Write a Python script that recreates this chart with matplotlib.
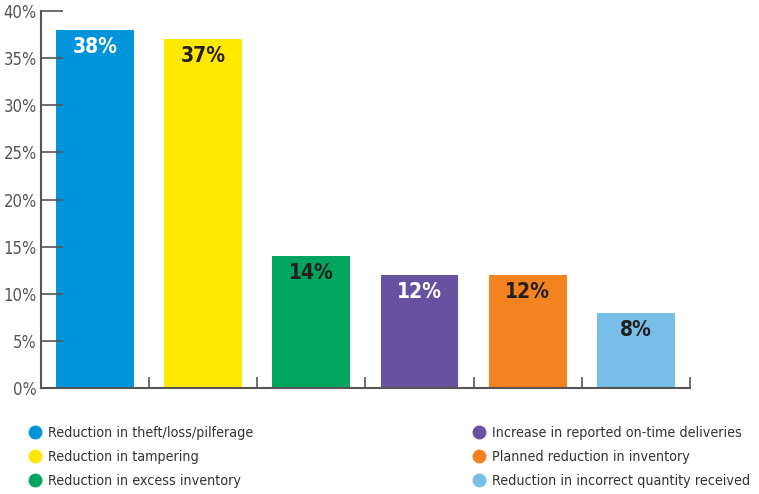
import matplotlib.pyplot as plt
from matplotlib.lines import Line2D

categories = [
    "Reduction in theft/loss/pilferage",
    "Reduction in tampering",
    "Reduction in excess inventory",
    "Increase in reported on-time deliveries",
    "Planned reduction in inventory",
    "Reduction in incorrect quantity received",
]
values = [38, 37, 14, 12, 12, 8]
colors = ["#0095da", "#ffe800", "#00a55e", "#6751a1", "#f58220", "#77bee8"]
label_colors = ["white", "#231f20", "#231f20", "white", "#231f20", "#231f20"]
yticks = [0, 5, 10, 15, 20, 25, 30, 35, 40]

plt.rcParams['font.family'] = ['DejaVu Sans']
plt.rcParams['font.stretch'] = 'condensed'

fig = plt.figure(figsize=(7.59, 4.94), dpi=100)
ax = fig.add_axes([0.054, 0.2146, 0.855, 0.763])

x = list(range(len(values)))
ax.bar(x, values, width=0.72, color=colors)
for xi, v, lc in zip(x, values, label_colors):
    ax.annotate(f"{v}%", (xi, v), xytext=(0, -5), textcoords="offset points",
                ha="center", va="top", fontsize=15, fontweight="bold", color=lc)

ax.set_xlim(-0.5, len(values) - 0.5)
ax.set_ylim(0, 40)
ax.set_yticks(yticks)
ax.set_yticklabels([f"{t}%" for t in yticks], fontsize=12, color="#555555")
ax.tick_params(axis="y", direction="in", length=16, width=1.2, color="#555555", pad=3)
ax.set_xticks([i + 0.5 for i in x])
ax.set_xticklabels([])
ax.tick_params(axis="x", direction="in", length=8, width=1.2, color="#555555")
for s in ["top", "right"]:
    ax.spines[s].set_visible(False)
for s in ["left", "bottom"]:
    ax.spines[s].set_color("#555555")
    ax.spines[s].set_linewidth(1.5)

handles = [Line2D([], [], marker="o", linestyle="", markersize=9, color=c) for c in colors]
fig.legend(handles, categories, ncol=2, loc="upper left", bbox_to_anchor=(0.018, 0.163),
           frameon=False, fontsize=10.3, labelcolor="#333333", handletextpad=0.3,
           columnspacing=15.2, labelspacing=0.68, handlelength=1.2)

fig.savefig("out.png", dpi=100)
